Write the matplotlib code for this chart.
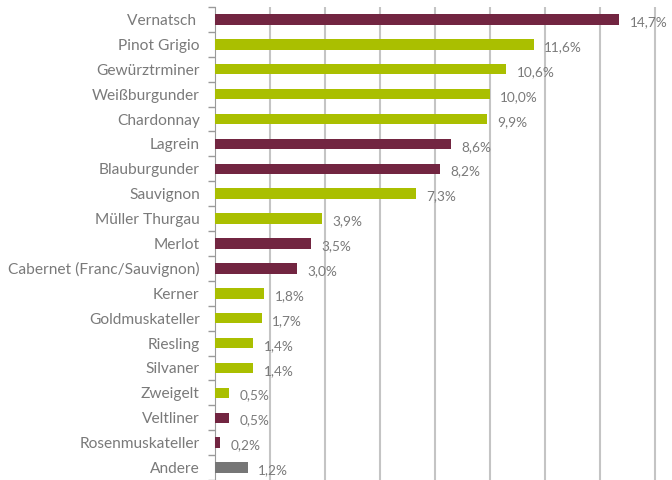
import numpy as np
import matplotlib.pyplot as plt

sorten = ['Vernatsch ', 'Pinot Grigio', 'Gewürztrminer', 'Weißburgunder', 'Chardonnay',
          'Lagrein', 'Blauburgunder', 'Sauvignon', 'Müller Thurgau', 'Merlot',
          'Cabernet (Franc/Sauvignon)', 'Kerner', 'Goldmuskateller', 'Riesling',
          'Silvaner', 'Zweigelt', 'Veltliner', 'Rosenmuskateller', 'Andere']
anteil = [14.7, 11.6, 10.6, 10.0, 9.9, 8.6, 8.2, 7.3, 3.9, 3.5, 3.0, 1.8, 1.7,
          1.4, 1.4, 0.5, 0.5, 0.2, 1.2]
typ = ['r', 'w', 'w', 'w', 'w', 'r', 'r', 'w', 'w', 'r', 'r', 'w', 'w',
       'w', 'w', 'w', 'r', 'r', 'a']

farben = {'r': '#722541', 'w': '#aabf00', 'a': '#767676'}
grau = '#7a7a7a'

plt.rcParams['font.family'] = ['Lato', 'DejaVu Sans']

fig = plt.figure(figsize=(6.72, 4.8), dpi=100)
ax = fig.add_axes([215 / 672, 0, 455 / 672, 473 / 480])

y = np.arange(len(sorten))
ax.barh(y, anteil, height=0.42, color=[farben[t] for t in typ], zorder=3)

# Werte rechts neben den Balken
for yi, v in zip(y, anteil):
    ax.annotate(('%.1f%%' % v).replace('.', ','), (v, yi), xytext=(7.5, -2),
                textcoords='offset points', va='center', ha='left',
                fontsize=9.8, color=grau)

ax.set_xlim(0, 16.55)
ax.set_ylim(len(sorten) - 0.5, -0.5)
ax.set_xticks(np.arange(2, 17, 2))
ax.xaxis.grid(True, color='#c4c4c4', linewidth=1.5, zorder=0)
ax.tick_params(axis='x', length=0, labelbottom=False)

ax.set_yticks(y)
ax.set_yticklabels(sorten, fontsize=11.2, color=grau)
ax.set_yticks(np.arange(len(sorten) + 1) - 0.5, minor=True)
ax.tick_params(axis='y', which='major', length=0, pad=11)
ax.tick_params(axis='y', which='minor', length=5, color='#9a9a9a', width=1)

for s in ['top', 'right', 'bottom']:
    ax.spines[s].set_visible(False)
ax.spines['left'].set_color('#9a9a9a')

fig.savefig('out.png', dpi=100)
